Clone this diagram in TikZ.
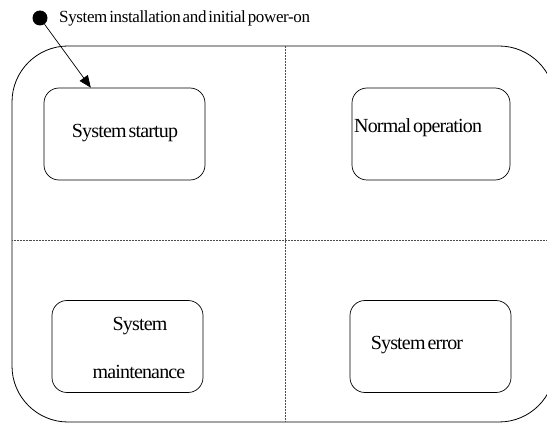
\documentclass[tikz,border=0pt]{standalone}
\usepackage{fontspec}
\setmainfont{Liberation Serif}
\newfontfamily\boxfont[LetterSpace=-4.2,WordSpace=0.5]{Liberation Serif}
\newfontfamily\labelfont[LetterSpace=-2.2,WordSpace=0.5]{Liberation Serif}
\usetikzlibrary{arrows.meta}
\tikzset{
  statebox/.style={draw, line width=0.7pt, rounded corners=15pt, minimum width=#1, minimum height=92pt, inner sep=0pt},
  boxtext/.style={font=\boxfont\fontsize{20}{22}\selectfont, inner sep=0pt},
  divider/.style={draw=black!70, line width=0.5pt, dash pattern=on 0.7pt off 0.8pt},
  outer/.style={draw, line width=0.8pt, rounded corners=56pt},
}
\begin{document}
\begin{tikzpicture}[x=1pt,y=-1pt]
\useasboundingbox (0,0) rectangle (547,425);
\clip (0,0) rectangle (547,425);
% outer frame
\path[outer] (12,46) rectangle (555,422);
% dividers
\path[divider] (285,46) -- (285,422);
\path[divider] (12,240) -- (555,240);
% states
\node[statebox=161pt] (startup) at (124.5,134) {};
\node[statebox=158pt] (normal) at (431,134) {};
\node[statebox=151pt] (maint) at (127.5,346.5) {};
\node[statebox=161pt] (error) at (430.5,346.5) {};
% texts
\node[boxtext] (tstartup) at (125,133) {System startup};
\node[boxtext, anchor=west] (tnormal) at (354,128) {Normal operation};
\node[boxtext] (tmaint1) at (140,326) {System};
\node[boxtext] (tmaint2) at (139,372) {maintenance};
\node[boxtext] (terror) at (417,345) {System error};
% initial
\node[circle, fill=black, minimum size=15pt, inner sep=0pt] (init) at (40,18) {};
\node[anchor=west, inner sep=0pt, font=\labelfont\fontsize{17}{19}\selectfont] (tinit) at (59,18) {System installation and initial power-on};
\draw[line width=0.7pt, -{Triangle[length=12pt,width=10pt]}] (init) -- (startup);
\end{tikzpicture}
\end{document}
